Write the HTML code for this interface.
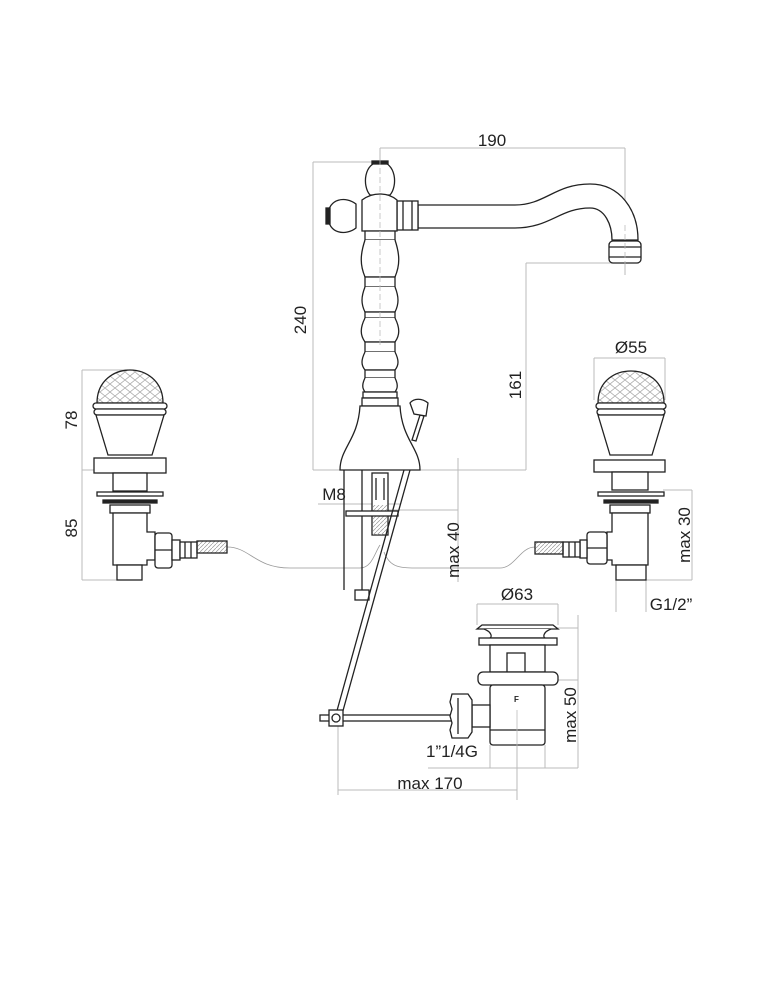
<!DOCTYPE html>
<html><head><meta charset="utf-8"><style>
html,body{margin:0;padding:0;background:#fff;}
svg{display:block;}
text{font-family:"Liberation Sans",sans-serif;font-size:17px;fill:#222;}
</style></head><body>
<svg width="784" height="1000" viewBox="0 0 784 1000" xmlns="http://www.w3.org/2000/svg">
<defs>
<pattern id="hatch" width="4" height="4" patternUnits="userSpaceOnUse"><path d="M0 4L4 0" stroke="#999" stroke-width="0.7"/></pattern>
<pattern id="dome" width="10" height="8" patternUnits="userSpaceOnUse"><path d="M0 0L5 4L10 0M0 8L5 4L10 8" stroke="#aaa" stroke-width="0.8" fill="none"/></pattern>
</defs>
<g fill="none" stroke="#bbb" stroke-width="1">
<line x1="380" y1="148" x2="625" y2="148"/>
<line x1="380" y1="148" x2="380" y2="340"/>
<line x1="625" y1="148" x2="625" y2="275"/>
<line x1="313" y1="162" x2="313" y2="470"/>
<line x1="313" y1="162" x2="372" y2="162"/>
<line x1="313" y1="470" x2="526" y2="470"/>
<line x1="526" y1="263" x2="526" y2="470"/>
<line x1="526" y1="263" x2="618" y2="263"/>
<line x1="458" y1="458" x2="458" y2="582"/>
<line x1="82" y1="370" x2="82" y2="580"/>
<line x1="82" y1="370" x2="128" y2="370"/>
<line x1="82" y1="470" x2="96" y2="470"/>
<line x1="82" y1="580" x2="118" y2="580"/>
<line x1="594" y1="358" x2="665" y2="358"/>
<line x1="594" y1="358" x2="594" y2="400"/>
<line x1="665" y1="358" x2="665" y2="400"/>
<line x1="692" y1="490" x2="692" y2="580"/>
<line x1="663" y1="490" x2="692" y2="490"/>
<line x1="646" y1="580" x2="692" y2="580"/>
<line x1="616" y1="580" x2="616" y2="612"/>
<line x1="646" y1="580" x2="646" y2="612"/>
<line x1="318" y1="504" x2="400" y2="504"/>
<line x1="380" y1="510" x2="458" y2="510"/>
<line x1="477" y1="604" x2="558" y2="604"/>
<line x1="477" y1="604" x2="477" y2="625"/>
<line x1="558" y1="604" x2="558" y2="625"/>
<line x1="578" y1="615" x2="578" y2="768"/>
<line x1="545" y1="628" x2="578" y2="628"/>
<line x1="545" y1="680" x2="578" y2="680"/>
<line x1="428" y1="768" x2="578" y2="768"/>
<line x1="490" y1="745" x2="490" y2="768"/>
<line x1="545" y1="745" x2="545" y2="768"/>
<line x1="338" y1="790" x2="517" y2="790"/>
<line x1="338" y1="725" x2="338" y2="795"/>
<line x1="517" y1="725" x2="517" y2="800"/>
</g>
<path d="M227 547 C250 547 255 568 290 568 L360 568 C372 568 375 552 380 545" stroke="#999" stroke-width="0.8" fill="none"/>
<path d="M384 552 C390 568 400 568 420 568 L500 568 C515 568 520 547 535 547" stroke="#999" stroke-width="0.8" fill="none"/>
<g fill="#fff" stroke="#222" stroke-width="1.3">
<path d="M418 205 L515 205 C545 205 555 184 590 184 C620 184 638 210 638 240 L612 240 C612 225 605 208 590 208 C560 208 550 228 515 228 L418 228Z"/>
<rect x="397" y="201" width="21" height="29"/>
<line x1="403" y1="201" x2="403" y2="230"/><line x1="412" y1="201" x2="412" y2="230"/>
<rect x="609" y="241" width="32" height="22" rx="4"/>
<line x1="609" y1="247" x2="641" y2="247"/><line x1="609" y1="257" x2="641" y2="257"/>
<path d="M370 195 C362 186 364 162 380 162 C396 162 398 186 390 195Z"/>
<rect x="372" y="161" width="16" height="3" fill="#222"/>
<path d="M356 204 C346 196 328 198 328 216 C328 234 346 236 356 228Z"/>
<rect x="326" y="208" width="4" height="16" fill="#222"/>
<path d="M362 200 Q370 194 380 194 Q390 194 397 200 L397 231 L362 231Z"/>
<path d="M365 231 L395 231 L395 240 L365 240Z"/>
<path d="M365 240 C360 255 360 265 365 277 L395 277 C400 265 400 255 395 240"/>
<rect x="365" y="277" width="30" height="10"/>
<path d="M365 287 C361 297 361 304 365 312 L395 312 C399 304 399 297 395 287"/>
<rect x="365" y="312" width="30" height="6"/>
<path d="M365 318 C360 328 360 335 365 342 L395 342 C400 335 400 328 395 318"/>
<rect x="365" y="342" width="30" height="10"/>
<path d="M365 352 C361 360 361 365 365 370 L395 370 C399 365 399 360 395 352"/>
<rect x="365" y="370" width="30" height="8"/>
<path d="M365 378 C362 384 362 388 365 392 L395 392 C398 388 398 384 395 378"/>
<rect x="363" y="392" width="34" height="6"/>
<rect x="362" y="398" width="36" height="8"/>
<path d="M360 406 L400 406 C402 440 420 448 420 470 L340 470 C340 448 358 440 360 406Z"/>
<path d="M412 440 L420 415 L424 416 L416 441Z"/>
<path d="M414 414 L410 403 C414 398 422 398 428 403 L426 416Z"/>
<line x1="344" y1="470" x2="344" y2="590"/>
<line x1="362" y1="470" x2="362" y2="590"/>
<rect x="355" y="590" width="14" height="10"/>
<rect x="372" y="473" width="16" height="62"/>
<rect x="373" y="505" width="14" height="30" fill="url(#hatch)" stroke="none"/>
<line x1="376" y1="478" x2="376" y2="500"/><line x1="384" y1="478" x2="384" y2="500"/>
<rect x="346" y="511" width="52" height="5"/>
<path d="M404 470 L333 725 M410 470 L339 725" fill="none"/>
<rect x="320" y="715" width="135" height="6"/>
<rect x="329" y="710" width="14" height="16"/>
<circle cx="336" cy="718" r="4"/>
<path d="M482 625 L553 625 L558 629 L477 629Z"/>
<path d="M484 629 C492 632 492 637 490 638 L545 638 C543 637 543 632 551 629"/>
<rect x="479" y="638" width="78" height="7"/>
<rect x="490" y="645" width="55" height="27"/>
<rect x="507" y="653" width="18" height="19"/>
<rect x="478" y="672" width="80" height="13" rx="5"/>
<rect x="490" y="685" width="55" height="60" rx="3"/>
<line x1="490" y1="730" x2="545" y2="730"/>
<rect x="472" y="705" width="18" height="22"/>
<path d="M452 694 L468 694 L472 700 L472 732 L468 738 L452 738 L450 730 L452 723 L450 716 L452 709 L450 702Z"/>
<line x1="458" y1="698" x2="458" y2="734"/>
<path d="M97 403 C97 380 115 370 130 370 C145 370 163 380 163 403Z" fill="url(#dome)"/>
<rect x="93" y="403" width="74" height="6" rx="3"/>
<rect x="94" y="409" width="72" height="6" rx="3"/>
<path d="M96 415 L164 415 L152 455 L108 455Z"/>
<rect x="94" y="458" width="72" height="15"/>
<rect x="113" y="473" width="34" height="18"/>
<rect x="97" y="492" width="66" height="4"/>
<rect x="103" y="500" width="54" height="3" fill="#222"/>
<rect x="110" y="505" width="40" height="8"/>
<path d="M113 513 L147 513 L147 532 L155 532 L155 560 L147 560 L147 565 L113 565Z"/>
<rect x="117" y="565" width="25" height="15"/>
<rect x="155" y="533" width="17" height="35" rx="3"/>
<line x1="155" y1="550" x2="172" y2="550"/>
<rect x="172" y="540" width="8" height="20"/>
<rect x="180" y="542" width="17" height="16"/>
<line x1="185" y1="542" x2="185" y2="558"/><line x1="191" y1="542" x2="191" y2="558"/>
<rect x="197" y="541" width="30" height="12" fill="url(#hatch)"/>
<path d="M598 403 C598 380 616 371 631 371 C646 371 664 380 664 403Z" fill="url(#dome)"/>
<rect x="596" y="403" width="70" height="6" rx="3"/>
<rect x="597" y="409" width="68" height="6" rx="3"/>
<path d="M598 415 L664 415 L652 455 L610 455Z"/>
<rect x="594" y="460" width="71" height="12"/>
<rect x="612" y="472" width="36" height="18"/>
<rect x="598" y="492" width="66" height="4"/>
<rect x="604" y="500" width="54" height="3" fill="#222"/>
<rect x="610" y="505" width="40" height="8"/>
<path d="M612 513 L648 513 L648 565 L612 565 L612 560 L607 560 L607 532 L612 532Z"/>
<rect x="616" y="565" width="30" height="15"/>
<rect x="587" y="532" width="20" height="32" rx="3"/>
<line x1="587" y1="548" x2="607" y2="548"/>
<rect x="580" y="540" width="7" height="18"/>
<rect x="563" y="542" width="17" height="15"/>
<line x1="569" y1="542" x2="569" y2="557"/><line x1="575" y1="542" x2="575" y2="557"/>
<rect x="535" y="542" width="28" height="12" fill="url(#hatch)"/>
</g>
<g stroke="#bbb" stroke-width="0.8">
<line x1="380" y1="150" x2="380" y2="345" stroke-dasharray="6 3"/>
<line x1="625" y1="225" x2="625" y2="275" stroke-dasharray="6 3"/>
<line x1="517" y1="710" x2="517" y2="800"/>
</g>
<text x="514" y="702" style="font-size:8px;font-weight:bold">F</text>
<text x="492" y="146" text-anchor="middle">190</text>
<text transform="translate(306,320) rotate(-90)" text-anchor="middle">240</text>
<text transform="translate(521,385) rotate(-90)" text-anchor="middle">161</text>
<text transform="translate(77,420) rotate(-90)" text-anchor="middle">78</text>
<text transform="translate(77,528) rotate(-90)" text-anchor="middle">85</text>
<text x="631" y="353" text-anchor="middle">Ø55</text>
<text transform="translate(690,535) rotate(-90)" text-anchor="middle">max 30</text>
<text x="671" y="610" text-anchor="middle">G1/2”</text>
<text x="334" y="500" text-anchor="middle">M8</text>
<text transform="translate(459,550) rotate(-90)" text-anchor="middle">max 40</text>
<text x="517" y="600" text-anchor="middle">Ø63</text>
<text transform="translate(576,715) rotate(-90)" text-anchor="middle">max 50</text>
<text x="452" y="757" text-anchor="middle">1”1/4G</text>
<text x="430" y="789" text-anchor="middle">max 170</text>
</svg>
</body></html>
